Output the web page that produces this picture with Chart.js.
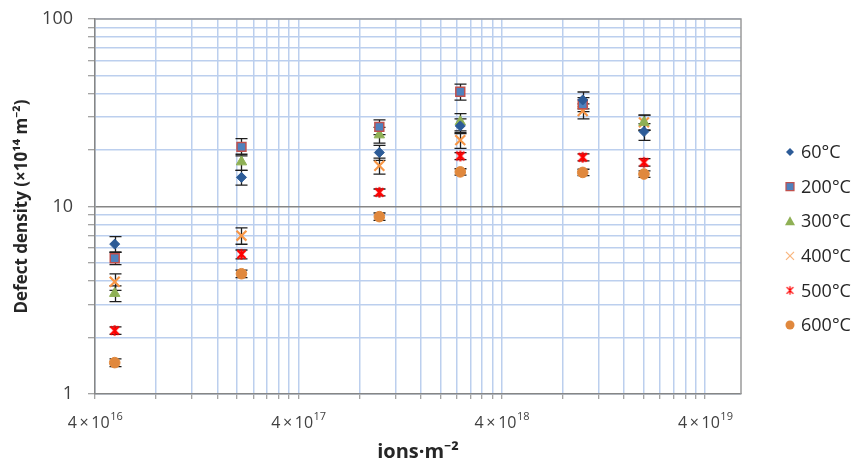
<!DOCTYPE html>
<html>
<head>
<meta charset="utf-8">
<script src="https://cdn.jsdelivr.net/npm/chart.js@4.4.1/dist/chart.umd.min.js"></script>
<style>
  html, body { margin: 0; padding: 0; background: #ffffff; }
  #wrap { width: 858px; height: 465px; }
</style>
</head>
<body>
<div id="wrap"><canvas id="c" width="858" height="465"></canvas></div>
<script>
// Ion fluence of each irradiation step (ions·m⁻²)
const fluence = [5e16, 2.1e17, 1e18, 2.5e18, 1e19, 2e19];

// Series names (irradiation temperature)
const seriesLabels = ['60°C', '200°C', '300°C', '400°C', '500°C', '600°C'];

// Defect density (×10¹⁴ m⁻²) and its uncertainty, one pair per temperature
const density60  = [6.3, 14.3, 19.4, 26.9, 37.0, 25.1];
const error60    = [0.6, 1.3, 1.8, 2.4, 3.8, 2.6];
const density200 = [5.3, 20.8, 26.6, 40.9, 35.1, null];
const error200   = [0.4, 2.2, 2.4, 4.0, 3.0, null];
const density300 = [3.44, 17.3, 24.1, 28.3, null, 28.1];
const error300   = [0.33, 1.7, 2.3, 3.0, null, 2.6];
const density400 = [3.97, 6.99, 16.5, 22.6, 32.3, 28.1];
const error400   = [0.4, 0.7, 1.6, 2.2, 3.0, 2.6];
const density500 = [2.18, 5.56, 11.9, 18.6, 18.3, 17.2];
const error500   = [0.1, 0.3, 0.5, 0.8, 0.8, 0.8];
const density600 = [1.47, 4.38, 8.83, 15.3, 15.2, 14.9];
const error600   = [0.07, 0.2, 0.4, 0.6, 0.6, 0.6];

// Axis ticks
const xMajorTicks = [4e16, 4e17, 4e18, 4e19];
const xTickBase = '4\u2009×\u200910';
const xTickExponents = ['16', '17', '18', '19'];
const yMajorTicks = [1, 10, 100];
const yTickLabels = ['1', '10', '100'];

const X_MIN = 4e16, X_MAX = 6e19;
const FONT = "'Open Sans', 'Noto Sans', sans-serif";
const TEXT = '#262626';
const GRID = '#bccfee';
const AXIS = '#868686';

// Minor grid positions: k × each labelled tick (k = 1..9) inside the range
const xGrid = [];
xMajorTicks.forEach(v => { for (let k = 1; k <= 9; k++) { const t = v * k; if (t <= X_MAX * 1.0001) xGrid.push(t); } });
const yGrid = [];
yMajorTicks.forEach(v => { for (let k = 1; k <= 9; k++) { const t = v * k; if (t <= 100) yGrid.push(t); } });

// Star marker: diagonal cross plus a vertical stroke
function starMarker(size, color, width) {
  const c = document.createElement('canvas');
  c.width = c.height = size;
  const g = c.getContext('2d');
  const m = size / 2, r = size / 2 - 1.2, d = r * 0.78;
  g.strokeStyle = color; g.lineWidth = width; g.lineCap = 'butt';
  g.beginPath();
  g.moveTo(m - d, m - d); g.lineTo(m + d, m + d);
  g.moveTo(m + d, m - d); g.lineTo(m - d, m + d);
  g.moveTo(m, m - r); g.lineTo(m, m + r);
  g.stroke();
  return c;
}
const starPlot = starMarker(13, '#ff0000', 2.2);
const starLegend = starMarker(11, '#ff0000', 1.3);

const styles = [
  { style: 'rectRot', r: 5,   fill: '#2c5b97', stroke: '#2c5b97', bw: 1 },
  { style: 'rect',    r: 6.3, fill: '#4f81bd', stroke: '#c0504d', bw: 1.5 },
  { style: 'triangle',r: 6,   fill: '#8fb055', stroke: '#8fb055', bw: 1 },
  { style: 'crossRot',r: 7,   fill: '#f79646', stroke: '#f79646', bw: 2.2 },
  { style: starPlot,  r: 6,   fill: '#ff0000', stroke: '#ff0000', bw: 2 },
  { style: 'circle',  r: 5.3, fill: '#e0883d', stroke: '#e0883d', bw: 1 }
];
const values = [density60, density200, density300, density400, density500, density600];
const errors = [error60, error200, error300, error400, error500, error600];

const datasets = seriesLabels.map((label, i) => ({
  label,
  data: fluence.map((x, j) => ({ x, y: values[i][j] })).filter(p => p.y !== null),
  errors: fluence.map((x, j) => ({ x, y: values[i][j], e: errors[i][j] })).filter(p => p.y !== null),
  showLine: false,
  pointStyle: styles[i].style,
  pointRadius: styles[i].r,
  pointHoverRadius: styles[i].r,
  pointBackgroundColor: styles[i].fill,
  pointBorderColor: styles[i].stroke,
  pointBorderWidth: styles[i].bw
}));

// Frame, error bars, superscripted x labels and the legend
const decor = {
  id: 'decor',
  beforeDatasetsDraw(chart) {
    const { ctx, chartArea: a, scales: { x, y } } = chart;
    ctx.save();
    // plot frame
    ctx.strokeStyle = '#9a9a9a'; ctx.lineWidth = 1.5;
    ctx.beginPath();
    ctx.moveTo(a.left, a.top); ctx.lineTo(a.right, a.top); ctx.lineTo(a.right, a.bottom);
    ctx.stroke();
    // error bars
    ctx.strokeStyle = '#1e1e1e'; ctx.lineWidth = 1.3;
    chart.data.datasets.forEach(ds => {
      ds.errors.forEach(p => {
        if (p.e == null) return;
        const px = Math.round(x.getPixelForValue(p.x)) + 0.5;
        const t = y.getPixelForValue(p.y + p.e), b = y.getPixelForValue(p.y - p.e);
        ctx.beginPath();
        ctx.moveTo(px, t); ctx.lineTo(px, b);
        ctx.moveTo(px - 6, t); ctx.lineTo(px + 6, t);
        ctx.moveTo(px - 6, b); ctx.lineTo(px + 6, b);
        ctx.stroke();
      });
    });
    ctx.restore();
  },
  afterDraw(chart) {
    const { ctx, scales: { x } } = chart;
    ctx.save();
    // x tick labels with exponents
    ctx.fillStyle = '#404040';
    ctx.textBaseline = 'alphabetic';
    ctx.textAlign = 'left';
    xMajorTicks.forEach((v, i) => {
      const px = x.getPixelForValue(v);
      ctx.font = '16px ' + FONT;
      const w1 = ctx.measureText(xTickBase).width;
      ctx.font = '11px ' + FONT;
      const w2 = ctx.measureText(xTickExponents[i]).width;
      const start = px - (w1 + w2) / 2;
      ctx.font = '16px ' + FONT;
      ctx.fillText(xTickBase, start, 428);
      ctx.font = '11px ' + FONT;
      ctx.fillText(xTickExponents[i], start + w1 + 0.5, 420);
    });
    // legend
    ctx.font = '18px ' + FONT;
    ctx.textBaseline = 'middle';
    seriesLabels.forEach((label, i) => {
      const cy = 152 + i * 34.6, cx = 790;
      const s = styles[i];
      ctx.fillStyle = s.fill; ctx.strokeStyle = s.stroke;
      ctx.beginPath();
      if (i === 0) {
        ctx.moveTo(cx, cy - 4); ctx.lineTo(cx + 4, cy); ctx.lineTo(cx, cy + 4); ctx.lineTo(cx - 4, cy); ctx.closePath(); ctx.fill();
      } else if (i === 1) {
        ctx.lineWidth = 1.2; ctx.rect(cx - 4, cy - 4, 8, 8); ctx.fill(); ctx.stroke();
      } else if (i === 2) {
        ctx.moveTo(cx, cy - 5); ctx.lineTo(cx + 5, cy + 4); ctx.lineTo(cx - 5, cy + 4); ctx.closePath(); ctx.fill();
      } else if (i === 3) {
        ctx.lineWidth = 1.2; ctx.globalAlpha = 0.7;
        ctx.moveTo(cx - 4, cy - 4); ctx.lineTo(cx + 4, cy + 4); ctx.moveTo(cx + 4, cy - 4); ctx.lineTo(cx - 4, cy + 4); ctx.stroke();
        ctx.globalAlpha = 1;
      } else if (i === 4) {
        ctx.drawImage(starLegend, cx - 5.5, cy - 5.5);
      } else {
        ctx.arc(cx, cy, 4.5, 0, Math.PI * 2); ctx.fill();
      }
      ctx.fillStyle = TEXT;
      ctx.fillText(label, 801, cy + 1);
    });
    ctx.restore();
  }
};

new Chart(document.getElementById('c'), {
  type: 'scatter',
  data: { datasets },
  options: {
    responsive: false,
    animation: false,
    events: [],
    layout: { padding: { left: 0, right: 117, top: 19, bottom: 0 } },
    plugins: { legend: { display: false }, tooltip: { enabled: false } },
    scales: {
      x: {
        type: 'logarithmic',
        min: X_MIN,
        max: X_MAX,
        afterBuildTicks: s => { s.ticks = xGrid.map(v => ({ value: v })); },
        afterFit: s => { s.height = 71; s.paddingLeft = 0; s.paddingRight = 0; },
        ticks: { autoSkip: false, maxRotation: 0, callback: () => '' },
        grid: { color: GRID, lineWidth: 1.5, tickLength: 5, tickColor: AXIS, tickWidth: 1 },
        border: { color: AXIS, width: 1.5 },
        title: {
          display: true, text: 'ions·m⁻²', color: TEXT,
          font: { family: FONT, size: 20, weight: 'bold' },
          padding: { top: 0, bottom: 1 }
        }
      },
      y: {
        type: 'logarithmic',
        min: 1,
        max: 100,
        afterBuildTicks: s => { s.ticks = yGrid.map(v => ({ value: v })); },
        afterFit: s => { s.width = 95; s.paddingTop = 0; s.paddingBottom = 0; },
        ticks: {
          autoSkip: false, padding: 15, color: '#404040',
          font: { family: FONT, size: 18 },
          callback: v => { const k = yMajorTicks.indexOf(v); return k >= 0 ? yTickLabels[k] : ''; }
        },
        grid: {
          color: c => (c.tick && c.tick.value === 10 ? AXIS : GRID),
          lineWidth: 1.5,
          tickLength: 7, tickColor: AXIS, tickWidth: 1
        },
        border: { color: AXIS, width: 1.5 },
        title: {
          display: true, text: 'Defect density (×10¹⁴ m⁻²)', color: TEXT,
          font: { family: FONT, size: 17, weight: 'bold' },
          padding: { top: 12, bottom: 0 }
        }
      }
    }
  },
  plugins: [decor]
});
</script>
</body>
</html>
